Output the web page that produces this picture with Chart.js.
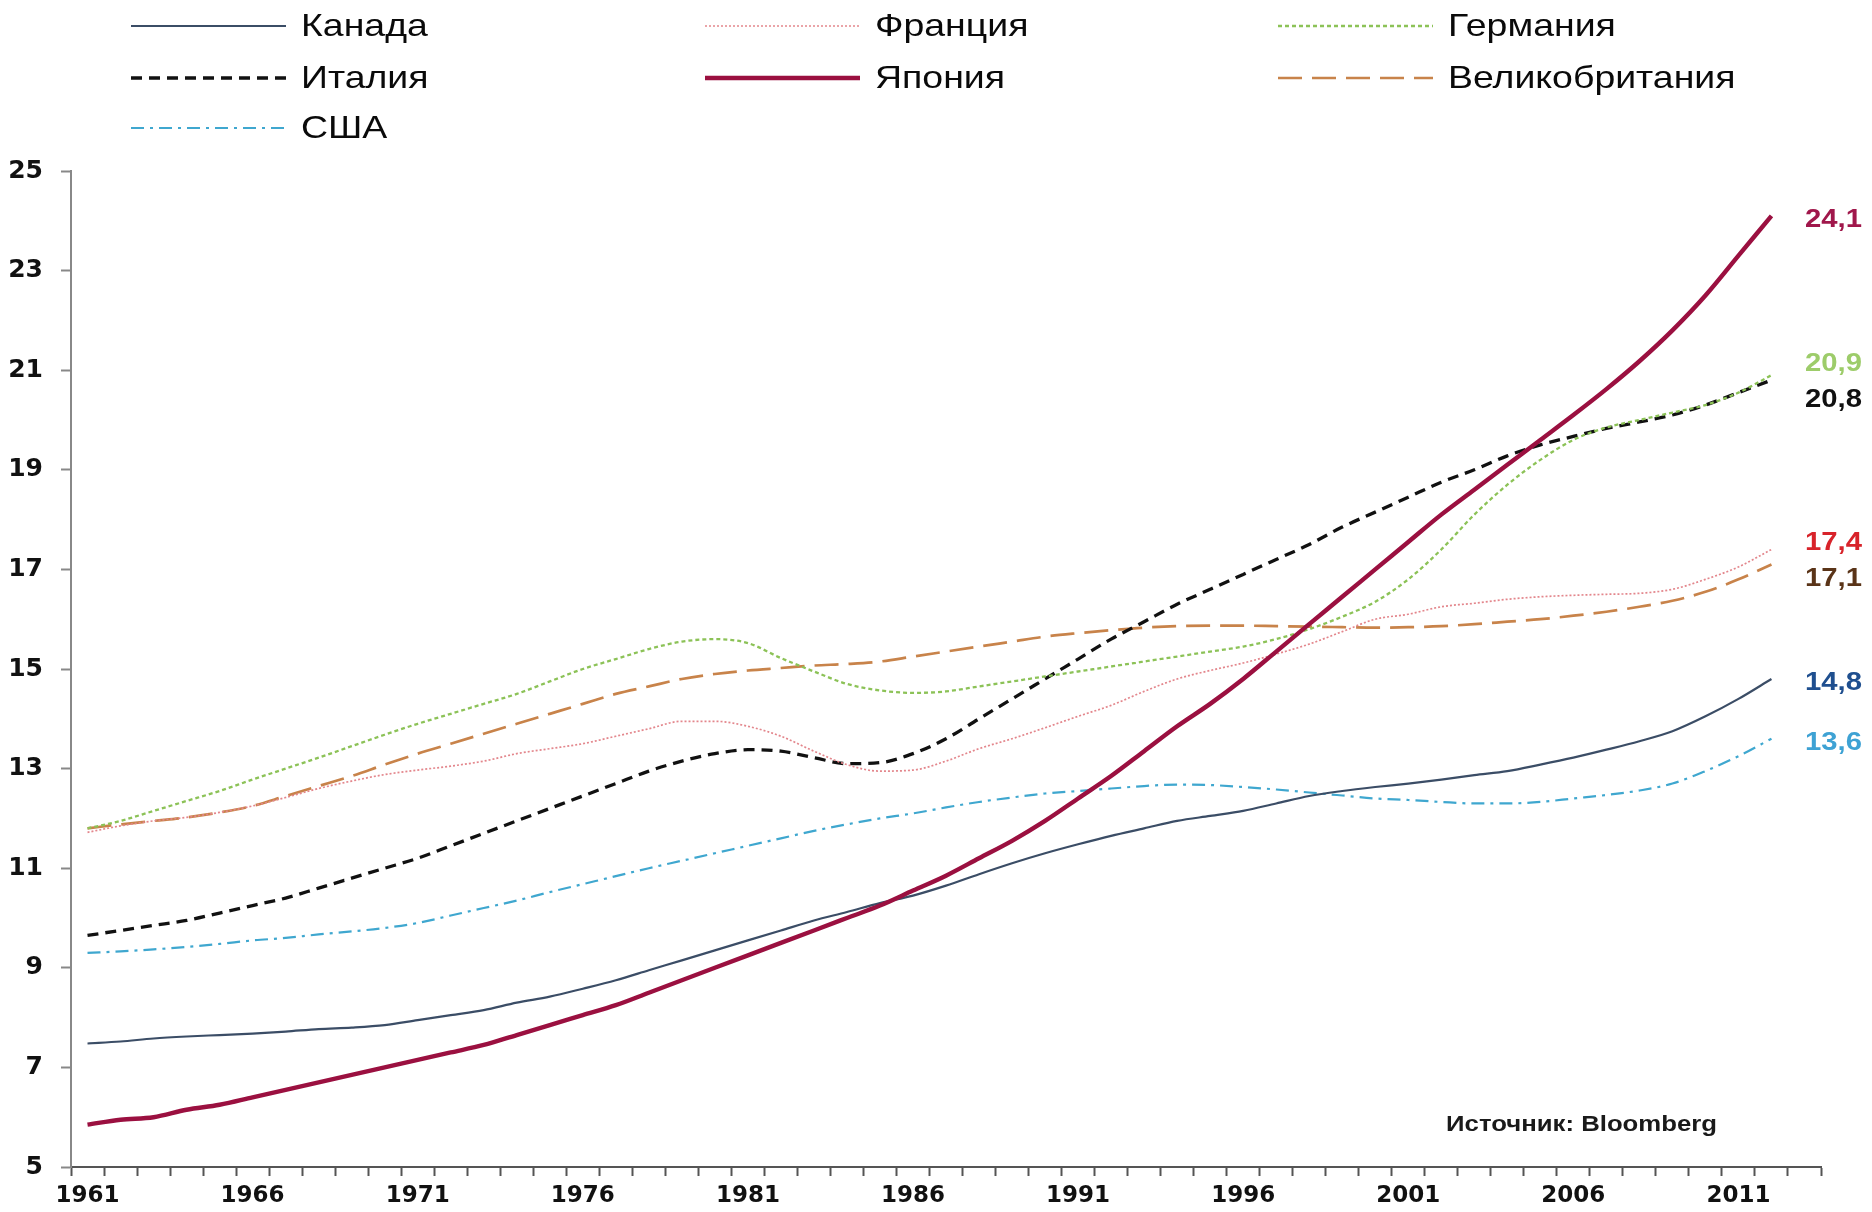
<!DOCTYPE html>
<html>
<head>
<meta charset="utf-8">
<script src="https://cdn.jsdelivr.net/npm/chart.js@4.4.1/dist/chart.umd.min.js"></script>
<style>
  html, body { margin: 0; padding: 0; background: #ffffff; }
  #wrap { width: 1872px; height: 1212px; position: relative; }
  canvas { display: block; }
</style>
</head>
<body>
<div id="wrap"><canvas id="chart" width="1872" height="1212" style="width:1872px;height:1212px"></canvas></div>
<script>
// ---------- DATA ----------
const years = ['1961','1962','1963','1964','1965','1966','1967','1968','1969','1970',
  '1971','1972','1973','1974','1975','1976','1977','1978','1979','1980',
  '1981','1982','1983','1984','1985','1986','1987','1988','1989','1990',
  '1991','1992','1993','1994','1995','1996','1997','1998','1999','2000',
  '2001','2002','2003','2004','2005','2006','2007','2008','2009','2010',
  '2011','2012','2013'];
const shownYears = ['1961','1966','1971','1976','1981','1986','1991','1996','2001','2006','2011'];

const seriesNames = ['Канада', 'Франция', 'Германия', 'Италия', 'Япония', 'Великобритания', 'США'];

const canada = [7.48,7.52,7.58,7.62,7.65,7.68,7.72,7.77,7.8,7.85,
  7.95,8.05,8.15,8.3,8.42,8.58,8.75,8.95,9.15,9.35,
  9.55,9.75,9.95,10.12,10.3,10.45,10.65,10.88,11.1,11.3,
  11.48,11.65,11.8,11.95,12.05,12.15,12.3,12.45,12.55,12.63,
  12.7,12.78,12.87,12.95,13.08,13.22,13.38,13.55,13.75,14.05,
  14.4,14.8];
const france = [11.72,11.85,11.95,12.02,12.12,12.25,12.42,12.6,12.75,12.88,
  12.97,13.05,13.15,13.3,13.4,13.5,13.65,13.8,13.95,13.95,
  13.85,13.65,13.35,13.08,12.95,12.97,13.15,13.4,13.6,13.82,
  14.05,14.27,14.55,14.8,14.97,15.12,15.3,15.5,15.75,16.0,
  16.1,16.25,16.32,16.4,16.45,16.48,16.5,16.52,16.6,16.8,
  17.05,17.4];
const germany = [11.8,11.95,12.15,12.35,12.55,12.78,13.0,13.22,13.45,13.68,
  13.9,14.1,14.3,14.5,14.75,15.0,15.2,15.4,15.55,15.6,
  15.52,15.22,14.95,14.7,14.57,14.52,14.55,14.65,14.75,14.85,
  14.95,15.05,15.15,15.25,15.35,15.45,15.6,15.8,16.05,16.35,
  16.8,17.4,18.1,18.7,19.2,19.6,19.85,20.0,20.15,20.3,
  20.55,20.9];
const italy = [9.65,9.75,9.85,9.95,10.1,10.25,10.4,10.6,10.8,11.0,
  11.2,11.45,11.7,11.95,12.2,12.45,12.7,12.95,13.15,13.3,
  13.38,13.35,13.22,13.1,13.12,13.3,13.6,14.0,14.4,14.8,
  15.2,15.6,15.95,16.3,16.6,16.9,17.2,17.5,17.85,18.15,
  18.45,18.75,19.0,19.28,19.5,19.67,19.83,19.96,20.1,20.3,
  20.55,20.8];
const japan = [5.85,5.95,6.0,6.15,6.25,6.4,6.55,6.7,6.85,7.0,
  7.15,7.3,7.45,7.65,7.85,8.05,8.25,8.5,8.75,9.0,
  9.25,9.5,9.75,10.0,10.25,10.55,10.85,11.2,11.55,11.95,
  12.4,12.85,13.35,13.85,14.3,14.8,15.35,15.9,16.45,17.0,
  17.55,18.1,18.6,19.1,19.6,20.1,20.62,21.18,21.8,22.5,
  23.3,24.1];
const uk = [11.8,11.88,11.95,12.02,12.12,12.25,12.45,12.65,12.85,13.08,
  13.3,13.5,13.7,13.9,14.1,14.3,14.5,14.65,14.8,14.9,
  14.97,15.02,15.07,15.1,15.15,15.25,15.35,15.45,15.55,15.65,
  15.72,15.78,15.83,15.86,15.87,15.87,15.86,15.85,15.84,15.83,
  15.84,15.86,15.9,15.95,16.0,16.07,16.15,16.25,16.37,16.55,
  16.8,17.1];
const usa = [9.3,9.33,9.37,9.42,9.48,9.55,9.6,9.67,9.73,9.8,
  9.9,10.05,10.2,10.35,10.52,10.68,10.84,11.0,11.15,11.3,
  11.45,11.6,11.75,11.88,12.0,12.1,12.22,12.33,12.42,12.5,
  12.55,12.6,12.65,12.68,12.67,12.63,12.58,12.52,12.46,12.4,
  12.37,12.33,12.3,12.3,12.33,12.4,12.47,12.56,12.7,12.95,
  13.25,13.6];

const sourceText = 'Источник: Bloomberg';

// ---------- STYLES ----------
const styles = [
  { color: '#3b4d66', width: 2.2, dash: [],            label: '#1f4f8f' },
  { color: '#e3868c', width: 1.7, dash: [2, 2],        label: '#d8232a' },
  { color: '#8cc257', width: 2.3, dash: [4, 3],        label: '#9dcc6a' },
  { color: '#111111', width: 3.3, dash: [11, 7],       label: '#111111' },
  { color: '#9b1040', width: 4.4, dash: [],            label: '#a0174b' },
  { color: '#c8834a', width: 2.7, dash: [24, 10],      label: '#5a3418' },
  { color: '#3fa7cf', width: 2.2, dash: [13, 6, 3, 6], label: '#3ea2d4' }
];
const seriesData = [canada, france, germany, italy, japan, uk, usa];

const TEXT_FONT = '"Liberation Sans", Arial, sans-serif';
const TICK_FONT = '"DejaVu Sans", "Liberation Sans", sans-serif';
const STRETCH = 1.17;
const TARGET = { left: 71, top: 171, right: 1821, bottom: 1167 };

function drawStretchedText(ctx, text, x, y, align) {
  const w = ctx.measureText(text).width * STRETCH;
  let sx = x;
  if (align === 'right') sx = x - w;
  else if (align === 'center') sx = x - w / 2;
  ctx.save();
  ctx.translate(sx, y);
  ctx.scale(STRETCH, 1);
  ctx.textAlign = 'left';
  ctx.fillText(text, 0, 0);
  ctx.restore();
}

// ---------- PLUGINS ----------
const legendPlugin = {
  id: 'gridLegend',
  afterDraw(chart) {
    const ctx = chart.ctx;
    const cols = [131, 705, 1278];
    const rows = [26, 78, 128];
    const lineLen = 155, gap = 15;
    chart.data.datasets.forEach((ds, i) => {
      const x = cols[i % 3], y = rows[Math.floor(i / 3)];
      ctx.save();
      ctx.beginPath();
      ctx.setLineDash(ds.borderDash || []);
      ctx.lineWidth = ds.borderWidth;
      ctx.strokeStyle = ds.borderColor;
      ctx.lineCap = 'butt';
      ctx.moveTo(x, y);
      ctx.lineTo(x + lineLen, y);
      ctx.stroke();
      ctx.restore();
      ctx.save();
      ctx.fillStyle = '#0a0a0a';
      ctx.font = '32px ' + TEXT_FONT;
      ctx.textBaseline = 'middle';
      drawStretchedText(ctx, ds.label, x + lineLen + gap, y + 1, 'left');
      ctx.restore();
    });
  }
};

const endLabelPlugin = {
  id: 'endLabels',
  afterDatasetsDraw(chart) {
    const ctx = chart.ctx;
    const area = chart.chartArea;
    const items = [];
    chart.data.datasets.forEach((ds, i) => {
      const meta = chart.getDatasetMeta(i);
      let idx = ds.data.length - 1;
      while (idx >= 0 && (ds.data[idx] === null || ds.data[idx] === undefined)) idx--;
      if (idx < 0) return;
      const pt = meta.data[idx];
      items.push({ y: pt.y, text: ds.data[idx].toFixed(1).replace('.', ','), color: styles[i].label });
    });
    items.sort((a, b) => a.y - b.y);
    const minGap = 36;
    for (let it = 0; it < 20; it++) {
      for (let k = 1; k < items.length; k++) {
        const d = items[k].y - items[k - 1].y;
        if (d < minGap) {
          const s = (minGap - d) / 2;
          items[k - 1].y -= s;
          items[k].y += s;
        }
      }
    }
    ctx.save();
    ctx.font = 'bold 25px ' + TEXT_FONT;
    ctx.textBaseline = 'middle';
    items.forEach(o => {
      ctx.fillStyle = o.color;
      drawStretchedText(ctx, o.text, area.right - 16, o.y + 4, 'left');
    });
    ctx.restore();

    // source note
    ctx.save();
    ctx.font = 'bold 22px ' + TEXT_FONT;
    ctx.fillStyle = '#1a1a1a';
    ctx.textBaseline = 'middle';
    drawStretchedText(ctx, sourceText, area.right - 104, area.bottom - 42, 'right');
    ctx.restore();
  }
};

// ---------- CHART ----------
const datasets = seriesNames.map((name, i) => ({
  label: name,
  data: seriesData[i],
  borderColor: styles[i].color,
  backgroundColor: styles[i].color,
  borderWidth: styles[i].width,
  borderDash: styles[i].dash,
  pointRadius: 0,
  pointHoverRadius: 0,
  fill: false,
  cubicInterpolationMode: 'monotone',
  order: i === 4 ? 0 : 1
}));

const pad = { left: 10, top: 150, right: 51, bottom: 2 };

const chart = new Chart(document.getElementById('chart').getContext('2d'), {
  type: 'line',
  data: { labels: years, datasets },
  options: {
    responsive: false,
    devicePixelRatio: 1,
    animation: false,
    events: [],
    layout: { padding: Object.assign({}, pad) },
    plugins: {
      legend: { display: false },
      tooltip: { enabled: false },
      title: { display: false }
    },
    scales: {
      x: {
        type: 'category',
        offset: true,
        grid: {
          offset: true,
          drawOnChartArea: false,
          drawTicks: true,
          tickLength: 9,
          tickWidth: 2,
          tickColor: '#555555'
        },
        border: { display: true, color: '#555555', width: 2 },
        ticks: {
          autoSkip: false,
          maxRotation: 0,
          minRotation: 0,
          padding: 6,
          color: '#111111',
          font: { family: TICK_FONT, size: 23, weight: 'bold' },
          callback(value) {
            const l = this.getLabelForValue(value);
            return shownYears.includes(l) ? l : '';
          }
        }
      },
      y: {
        min: 5,
        max: 25,
        grid: {
          drawOnChartArea: false,
          drawTicks: true,
          tickLength: 10,
          tickWidth: 2,
          tickColor: '#888888'
        },
        border: { display: true, color: '#888888', width: 2 },
        ticks: {
          stepSize: 2,
          padding: 18,
          color: '#111111',
          font: { family: TICK_FONT, size: 25, weight: 'bold' }
        }
      }
    }
  },
  plugins: [legendPlugin, endLabelPlugin]
});

// align plot area to the reference frame
for (let k = 0; k < 3; k++) {
  const a = chart.chartArea;
  pad.left += TARGET.left - a.left;
  pad.top += TARGET.top - a.top;
  pad.right += a.right - TARGET.right;
  pad.bottom += a.bottom - TARGET.bottom;
  chart.options.layout.padding = Object.assign({}, pad);
  chart.update('none');
}
</script>
</body>
</html>
